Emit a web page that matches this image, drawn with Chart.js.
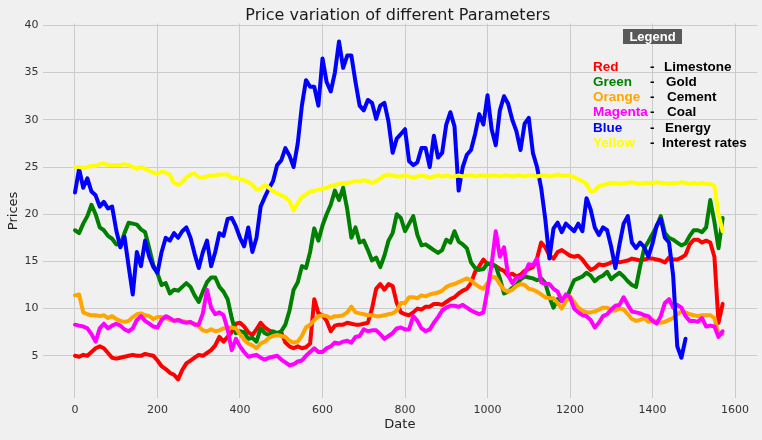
<!DOCTYPE html>
<html lang="en">
<head>
  <meta charset="UTF-8" />
  <title>Price variation of different Parameters</title>
  <script src="https://cdn.jsdelivr.net/npm/chart.js"></script>
  <style>
    html, body { margin: 0; padding: 0; background: #f0f0f0; }
    canvas { display: block; }
  </style>
</head>
<body>
  <canvas id="priceChart" width="762" height="440"></canvas>

  <script>
    // Day index on the x axis, one reading every 10 days
    const dates = Array.from({ length: 158 }, (_, i) => i * 10);

    // Values (one row = 100 days)
    const limestone = [
      5.0, 4.9, 5.1, 5.0, 5.4, 5.8, 6.0, 5.8, 5.3, 4.8,
      4.7, 4.8, 4.9, 5.0, 5.1, 5.0, 5.0, 5.2, 5.1, 5.0,
      4.5, 3.9, 3.6, 3.2, 3.0, 2.5, 3.5, 4.2, 4.5, 4.8,
      5.1, 5.0, 5.3, 5.6, 6.1, 7.0, 6.5, 7.0, 7.5, 8.4,
      8.5, 8.1, 7.5, 7.2, 7.8, 8.5, 8.0, 7.7, 7.5, 7.2,
      7.5, 6.4, 6.0, 5.8, 6.0, 5.8, 5.9, 6.3, 11.0, 9.5,
      9.3, 8.7, 7.6, 8.2, 8.3, 8.3, 8.5, 8.4, 8.3, 8.3,
      8.4, 8.5, 10.0, 12.1, 12.6, 12.0, 12.6, 12.4, 10.6, 9.6,
      9.4, 9.3, 9.6, 10.0, 9.9, 10.2, 10.2, 10.5, 10.5, 10.4,
      10.7, 11.0, 11.2, 11.6, 11.9, 12.1, 12.7, 13.9, 14.5, 15.2,
      14.7, 14.8, 14.5, 14.2, 14.0, 13.5, 13.7, 13.4, 13.6, 14.0,
      14.2, 14.4, 15.3, 17.0, 16.5, 15.6, 15.3, 16.0, 16.2, 15.9,
      15.6, 15.5, 15.6, 15.2, 14.6, 14.1, 14.3, 14.7, 14.6, 14.7,
      14.9, 15.1, 14.9, 15.0, 15.1, 15.3, 15.2, 15.1, 15.2, 15.3,
      15.3, 15.2, 15.1, 14.9, 15.4, 15.2, 15.2, 15.4, 15.7, 16.8,
      17.3, 17.3, 17.0, 17.2, 17.0, 15.5, 8.5, 10.5
    ];
    const gold = [
      18.3, 18.0, 19.0, 19.8, 21.0, 20.0, 18.6, 18.3, 17.7, 17.4,
      16.8, 16.8, 18.0, 19.1, 19.0, 18.9, 18.4, 18.1, 16.4, 14.6,
      13.7, 12.5, 12.7, 11.6, 12.0, 11.9, 12.3, 12.7, 12.3, 11.4,
      10.7, 11.8, 12.8, 13.3, 13.3, 12.3, 11.8, 11.0, 9.0, 7.4,
      7.6, 7.5, 6.8, 6.9, 6.5, 7.9, 7.4, 7.2, 7.6, 7.4,
      7.6, 8.3, 9.8, 12.0, 12.8, 14.5, 14.3, 16.0, 18.5, 17.2,
      18.8, 20.0, 21.0, 22.5, 21.5, 22.8, 20.5, 17.5, 18.6, 17.0,
      17.2, 16.2, 15.1, 15.4, 14.4, 15.6, 17.2, 18.0, 20.0, 19.6,
      18.2, 19.0, 19.8, 17.8, 16.7, 16.8, 16.5, 16.2, 15.9, 16.2,
      17.3, 17.0, 18.2, 17.1, 16.8, 16.4, 14.9, 14.3, 14.1, 14.2,
      14.8, 14.6, 14.5, 13.2, 11.6, 11.8, 12.2, 12.5, 13.1, 13.4,
      13.3, 13.2, 13.0, 13.2, 12.7, 11.2, 10.1, 11.0, 10.8, 10.9,
      12.0, 13.0, 13.2, 13.4, 13.8, 13.5, 12.9, 13.3, 13.5, 13.9,
      13.1, 13.5, 13.8, 13.4, 12.9, 12.5, 12.3, 14.5, 16.4, 17.1,
      17.9, 18.7, 19.8, 18.0, 17.5, 17.3, 17.0, 16.7, 16.9, 17.7,
      18.3, 18.3, 18.1, 18.6, 21.5, 19.2, 16.4, 19.6
    ];
    const cement = [
      11.4, 11.5, 9.6, 9.4, 9.3, 9.3, 9.2, 9.3, 9.0, 9.2,
      8.9, 8.7, 8.6, 8.7, 9.1, 9.4, 9.5, 9.3, 9.2, 8.9,
      9.1, 9.1, 9.0, 8.8, 8.7, 8.8, 8.7, 8.6, 8.5, 8.4,
      8.1, 7.7, 7.6, 7.8, 7.6, 7.7, 7.9, 8.0, 8.0, 7.9,
      7.3, 6.7, 6.3, 6.1, 5.8, 6.3, 6.5, 6.9, 7.1, 7.2,
      7.1, 7.0, 6.6, 6.4, 6.5, 7.1, 8.0, 8.3, 8.8, 9.2,
      9.3, 9.2, 9.0, 9.2, 9.2, 9.3, 9.6, 10.2, 9.6, 9.5,
      9.4, 9.3, 9.3, 9.2, 9.2, 9.3, 9.4, 9.5, 9.8, 10.6,
      10.6, 11.2, 11.2, 11.1, 11.4, 11.3, 11.5, 11.6, 11.7, 11.9,
      12.3, 12.5, 12.6, 12.8, 13.0, 13.2, 13.0, 12.6, 12.3, 12.1,
      12.7, 13.4, 13.3, 12.6, 12.0, 11.8, 12.0, 12.4, 12.6, 12.5,
      12.1, 12.0, 11.8, 11.5, 11.2, 11.1, 11.1, 10.6, 10.0, 10.8,
      11.3, 10.7, 10.1, 9.8, 9.6, 9.6, 9.7, 9.9, 10.1, 10.1,
      9.8, 9.8, 10.0, 9.9, 9.4, 8.9, 8.7, 8.8, 9.0, 8.6,
      8.8, 8.6, 8.5, 8.6, 8.8, 9.0, 9.4, 9.7, 9.6, 9.4,
      9.3, 9.2, 9.3, 9.3, 9.3, 9.0, 7.3, 7.3
    ];
    const coal = [
      8.3, 8.2, 8.1, 7.9, 7.3, 6.5, 7.9, 8.4, 7.9, 8.2,
      8.4, 8.2, 7.8, 7.6, 7.9, 8.8, 9.2, 8.7, 8.4, 8.1,
      8.0, 8.8, 9.2, 9.0, 8.7, 8.8, 8.6, 8.5, 8.6, 8.3,
      8.3, 9.5, 12.0, 10.1, 9.4, 9.6, 9.3, 7.8, 5.6, 6.8,
      6.0, 5.4, 4.9, 5.0, 5.1, 4.8, 4.6, 4.8, 4.9, 5.0,
      4.6, 4.3, 4.0, 4.1, 4.4, 4.5, 5.0, 5.4, 5.8, 5.4,
      5.4, 5.8, 6.0, 6.4, 6.3, 6.5, 6.6, 6.4, 7.0, 7.1,
      7.8, 7.6, 7.7, 7.7, 7.3, 6.8, 7.1, 7.4, 7.9, 8.0,
      7.8, 7.8, 9.2, 8.7, 7.9, 7.6, 7.8, 8.5, 9.1, 9.8,
      10.1, 10.3, 10.3, 10.2, 10.4, 10.1, 9.8, 9.6, 9.4, 9.6,
      12.0, 14.7, 18.2, 15.5, 16.5, 13.5, 12.7, 13.3, 13.3, 13.7,
      14.7, 14.6, 15.3, 12.8, 12.6, 12.6, 12.1, 11.8, 10.8, 11.5,
      11.2, 10.0, 9.6, 9.3, 9.2, 8.8, 8.0, 8.5, 9.2, 9.4,
      9.9, 10.3, 10.4, 11.2, 10.4, 9.7, 9.6, 9.5, 9.3, 9.2,
      8.7, 8.4, 9.2, 10.6, 11.0, 10.1, 10.4, 10.1, 9.2, 8.7,
      8.7, 8.6, 9.0, 8.1, 8.2, 8.1, 7.0, 7.6
    ];
    const energy = [
      22.3, 24.8, 22.8, 23.8, 22.4, 22.0, 20.8, 21.3, 20.6, 20.8,
      18.3, 16.5, 17.6, 14.5, 11.5, 16.0, 14.5, 17.2, 15.5, 14.4,
      13.8, 16.0, 17.5, 17.2, 18.0, 17.5, 18.2, 18.6, 17.5, 15.8,
      14.3, 16.0, 17.2, 14.5, 16.0, 18.0, 17.7, 19.5, 19.6, 18.7,
      17.5, 16.6, 18.6, 16.0, 17.5, 20.8, 21.8, 22.7, 23.5, 25.2,
      25.7, 27.0, 26.2, 25.0, 27.5, 31.5, 34.2, 33.5, 33.5, 31.5,
      36.5, 34.0, 33.0, 35.0, 38.3, 35.5, 36.8, 36.8, 34.0, 31.5,
      31.0, 32.1, 31.8, 30.1, 31.5, 31.8, 29.8, 26.5, 28.0, 28.5,
      29.0, 25.6, 25.2, 25.5, 27.0, 27.0, 25.0, 28.3, 26.0, 26.5,
      29.5, 30.8, 29.3, 22.5, 25.0, 26.3, 26.8, 28.5, 30.6, 29.5,
      32.6, 29.0, 27.3, 31.0, 32.5, 31.7, 30.0, 28.8, 26.8, 29.6,
      30.2, 26.5, 25.0, 22.8, 19.5, 15.3, 18.5, 19.1, 18.1, 19.0,
      18.6, 18.2, 19.0, 18.2, 21.7, 20.5, 18.6, 17.8, 18.6, 18.3,
      16.5, 14.3, 16.8, 19.0, 19.8, 17.0, 16.4, 17.0, 16.5, 15.5,
      16.9, 18.8, 19.5, 17.5, 17.0, 13.5, 6.0, 4.8, 6.8, null,
      null, null, null, null, null, null, null, null
    ];
    const interestRates = [
      25.0, 25.0, 24.9, 25.0, 25.1, 25.1, 25.3, 25.4, 25.2, 25.2,
      25.2, 25.2, 25.3, 25.2, 25.0, 24.8, 25.0, 24.8, 24.6, 24.4,
      24.3, 24.5, 24.4, 24.2, 23.3, 23.1, 23.4, 23.9, 24.2, 24.3,
      23.9, 23.9, 24.0, 24.1, 24.1, 24.2, 24.2, 24.2, 23.8, 23.9,
      23.7, 23.6, 23.4, 23.1, 22.6, 22.7, 23.1, 22.8, 22.4, 22.2,
      22.0, 21.8, 21.4, 20.4, 21.2, 21.8, 22.1, 22.4, 22.5, 22.6,
      22.7, 22.8, 23.0, 23.1, 23.2, 23.3, 23.3, 23.4, 23.5, 23.5,
      23.6, 23.5, 23.3, 23.5, 23.8, 24.1, 24.2, 24.1, 24.0, 24.0,
      24.1, 24.0, 23.9, 24.0, 24.1, 24.0, 23.9, 24.0, 24.1, 24.0,
      24.1, 24.0, 24.0, 24.1, 24.0, 24.1, 24.1, 24.0, 24.1, 24.1,
      24.0, 24.1, 24.1, 24.0, 24.1, 24.1, 24.0, 24.1, 24.1, 24.0,
      24.1, 24.1, 24.0, 24.1, 24.1, 24.0, 24.1, 24.2, 24.1, 24.1,
      24.1, 23.9, 23.7, 23.5, 23.2, 22.4, 22.5, 23.0, 23.1, 23.2,
      23.3, 23.3, 23.2, 23.3, 23.3, 23.4, 23.3, 23.2, 23.3, 23.3,
      23.3, 23.4, 23.3, 23.3, 23.2, 23.3, 23.3, 23.4, 23.3, 23.2,
      23.3, 23.2, 23.3, 23.2, 23.2, 23.0, 20.0, 18.2
    ];

    const xTicks = [0, 200, 400, 600, 800, 1000, 1200, 1400, 1600];
    const yTicks = [5, 10, 15, 20, 25, 30, 35, 40];

    const titleText = 'Price variation of different Parameters';
    const colourWords = ['Red', 'Green', 'Orange', 'Magenta', 'Blue', 'Yellow'];
    const seriesNames = ['Limestone', 'Gold', 'Cement', 'Coal', 'Energy', 'Interest rates'];
    const seriesValues = [limestone, gold, cement, coal, energy, interestRates];

    const lineColours = ['#ff0000', '#008000', '#ffa500', '#ff00ff', '#0000ff', '#ffff00'];
    const FONT = '"DejaVu Sans", sans-serif';
    const LEGEND_FONT = '"Liberation Sans", Arial, sans-serif';

    // Title + the text legend in the top right corner
    const annotations = {
      id: 'annotations',
      afterDraw(chart) {
        const { ctx, chartArea } = chart;
        ctx.save();
        ctx.fillStyle = '#1a1a1a';
        ctx.font = '16px ' + FONT;
        ctx.textAlign = 'center';
        ctx.textBaseline = 'alphabetic';
        ctx.fillText(titleText, (chartArea.left + chartArea.right) / 2 - 2, 19.5);

        ctx.fillStyle = '#595959';
        ctx.fillRect(623, 29, 59, 15);
        ctx.fillStyle = '#ffffff';
        ctx.font = 'bold 13px ' + LEGEND_FONT;
        ctx.fillText('Legend', 652.5, 41);

        ctx.textAlign = 'left';
        const nameX = [664, 666, 667, 667, 665, 662];
        colourWords.forEach((word, i) => {
          const y = 70.7 + i * 15.2;
          ctx.font = 'bold 13.5px ' + LEGEND_FONT;
          ctx.fillStyle = lineColours[i];
          ctx.fillText(word, 593, y);
          ctx.fillStyle = '#000000';
          ctx.fillText('-', 650, y);
          ctx.fillText(seriesNames[i], nameX[i], y);
        });
        ctx.restore();
      }
    };

    const datasets = seriesNames.map((name, i) => ({
      label: name,
      data: dates.map((d, j) => ({ x: d, y: seriesValues[i][j] })),
      borderColor: lineColours[i],
      borderWidth: 4,
      pointRadius: 0,
      tension: 0,
      borderJoinStyle: 'round',
      borderCapStyle: 'round',
      order: seriesNames.length - i   // later series on top, like the original
    }));

    new Chart(document.getElementById('priceChart'), {
      type: 'line',
      data: { datasets },
      options: {
        responsive: false,
        animation: false,
        layout: { padding: { top: 23.5, right: 4.8, bottom: 0, left: 0 } },
        plugins: {
          legend: { display: false },
          title: { display: false },
          tooltip: { enabled: false }
        },
        scales: {
          x: {
            type: 'linear',
            min: -78.75,
            max: 1653.75,
            afterBuildTicks: s => { s.ticks = xTicks.map(v => ({ value: v })); },
            afterFit: s => { s.height = 41.7; },
            grid: { color: '#cbcbcb', lineWidth: 1, drawTicks: false },
            border: { display: false },
            ticks: {
              color: '#333333', font: { family: FONT, size: 11 }, padding: 5, maxRotation: 0,
              callback: v => String(v)
            },
            title: {
              display: true, text: 'Date', color: '#222222',
              font: { family: FONT, size: 13 }, padding: { top: 0, bottom: 7.6 }
            }
          },
          y: {
            min: 0.5,
            max: 40.2,
            afterBuildTicks: s => { s.ticks = yTicks.map(v => ({ value: v })); },
            afterFit: s => { s.width = 42.5; },
            grid: { color: '#cbcbcb', lineWidth: 1, drawTicks: false },
            border: { display: false },
            ticks: {
              color: '#333333', font: { family: FONT, size: 11 }, padding: 4,
              callback: v => String(v)
            },
            title: {
              display: true, text: 'Prices', color: '#222222',
              font: { family: FONT, size: 13 }, padding: { top: 6.2, bottom: 0 }
            }
          }
        }
      },
      plugins: [annotations]
    });
  </script>
</body>
</html>
